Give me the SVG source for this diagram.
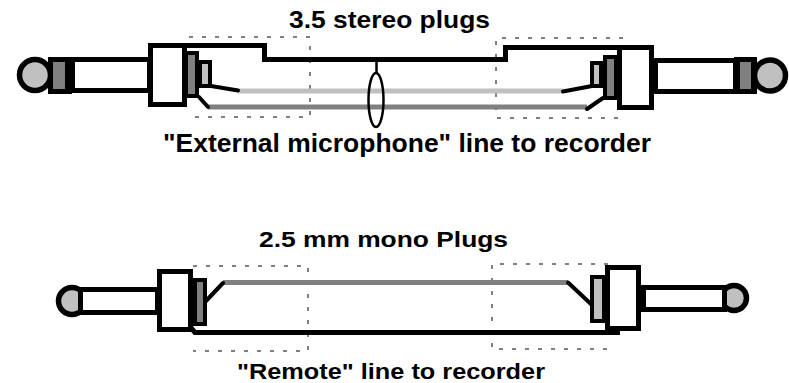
<svg xmlns="http://www.w3.org/2000/svg" width="789" height="383" viewBox="0 0 789 383">
<style>
.o{fill:#fff;stroke:#000;stroke-width:5}
.tip{fill:#c0c0c0;stroke:#000;stroke-width:5.5}
.dk{fill:#808080;stroke:#000;stroke-width:4}
.lt{fill:#c0c0c0;stroke:#000;stroke-width:4}
.blk{fill:none;stroke:#000;stroke-width:5}
.bw{fill:none;stroke:#000;stroke-width:4;stroke-linecap:round}
.wl{fill:none;stroke:#c0c0c0;stroke-width:5}
.wd{fill:none;stroke:#808080;stroke-width:5}
.dash{fill:none;stroke:#000;stroke-width:1;stroke-dasharray:4 9}
.t{font-family:"Liberation Sans",Arial,sans-serif;font-weight:bold;fill:#000}
</style>
<rect width="789" height="383" fill="#fff"/>

<g id="guides">
<path class="dash" d="M189,37 H310 V117 H189"/>
<path class="dash" d="M623,38 H496 V118 H623"/>
<path class="dash" d="M193,266 H308 V351 H193"/>
<path class="dash" d="M608,264 H492 V349 H608"/>
</g>

<g id="connectors">
<!-- top cable -->
<path class="blk" d="M152,45.5 H264.5 V59.5 H505.5 V47.5 H620"/>
<line x1="376.5" y1="60" x2="376.5" y2="73" stroke="#000" stroke-width="2.5"/>
<line class="wl" x1="238" y1="91" x2="563" y2="91"/>
<line class="wd" x1="208" y1="107" x2="587" y2="107"/>
<line class="bw" x1="211" y1="86" x2="238" y2="90.5"/>
<line class="bw" x1="199" y1="97" x2="208" y2="107"/>
<line class="bw" x1="563" y1="91.5" x2="592" y2="86"/>
<line class="bw" x1="587" y1="109" x2="603" y2="98"/>
<ellipse cx="376" cy="100" rx="7.5" ry="27" fill="none" stroke="#000" stroke-width="2.5"/>
<!-- bottom cable -->
<line class="wd" x1="223" y1="282.5" x2="568" y2="282.5"/>
<line class="bw" x1="205" y1="302" x2="223" y2="283"/>
<line class="bw" x1="568" y1="282.5" x2="592" y2="305"/>
<path class="blk" d="M191,328 L195,332.5 H620"/>
</g>

<g id="plug-top-left">
<circle class="tip" cx="35" cy="75" r="15.5"/>
<rect x="48" y="57" width="24" height="37" fill="#000"/>
<rect x="53" y="62" width="12" height="27" fill="#808080"/>
<rect class="o" x="72.5" y="59.5" width="77" height="31"/>
<rect class="o" x="150.5" y="45.5" width="34" height="59"/>
<rect class="dk" x="186" y="53" width="11" height="43"/>
<rect class="lt" x="200" y="62" width="10" height="24"/>
</g>

<g id="plug-top-right">
<circle class="tip" cx="770" cy="75.5" r="15.5"/>
<rect x="734" y="57" width="23" height="37" fill="#000"/>
<rect x="740" y="62" width="11" height="27" fill="#808080"/>
<rect class="o" x="655.5" y="60.5" width="80" height="31"/>
<rect class="o" x="619.5" y="47.5" width="32" height="60"/>
<rect class="dk" x="605" y="57" width="11" height="41"/>
<rect class="lt" x="592" y="63" width="9" height="23"/>
</g>

<g id="plug-bottom-left">
<circle class="tip" cx="72" cy="301" r="13.5"/>
<rect class="o" x="80.5" y="289.5" width="77" height="23"/>
<rect class="o" x="159.5" y="271.5" width="31" height="58"/>
<rect class="dk" x="195" y="280" width="10" height="44"/>
</g>

<g id="plug-bottom-right">
<circle class="tip" cx="734" cy="298" r="12.5"/>
<rect class="o" x="643.5" y="287.5" width="81" height="22"/>
<rect class="o" x="607.5" y="267.5" width="31" height="61"/>
<rect class="lt" x="592" y="277" width="12" height="44"/>
</g>

<g id="labels">
<text class="t" x="289" y="28" font-size="24" textLength="201" lengthAdjust="spacingAndGlyphs">3.5 stereo plugs</text>
<text class="t" x="163" y="152" font-size="26" textLength="488" lengthAdjust="spacingAndGlyphs">"External microphone" line to recorder</text>
<text class="t" x="259" y="247" font-size="22" textLength="249" lengthAdjust="spacingAndGlyphs">2.5 mm mono Plugs</text>
<text class="t" x="237" y="379" font-size="22" textLength="308" lengthAdjust="spacingAndGlyphs">"Remote" line to recorder</text>
</g>
</svg>
